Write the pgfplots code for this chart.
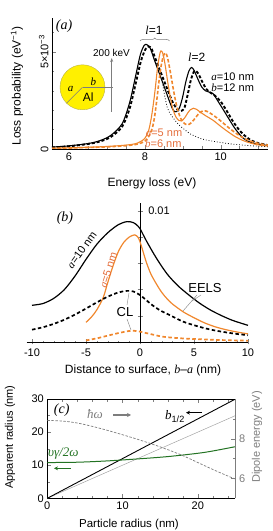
\documentclass[border=0pt]{standalone}
\usepackage{pgfplots}
\pgfplotsset{compat=1.18}
\usepackage{fontspec}
\setmainfont{Liberation Sans}
\newfontfamily\serif{Liberation Serif}
\usetikzlibrary{decorations.pathreplacing,arrows.meta}
\definecolor{orng}{RGB}{240,135,45}
\definecolor{orngtxt}{RGB}{228,110,60}
\definecolor{grn}{RGB}{35,115,35}
\definecolor{gry}{RGB}{125,125,125}
\definecolor{yel}{RGB}{255,240,0}
\newcommand{\mi}[1]{{\serif\itshape #1}}
\newcommand{\fs}[1]{\fontsize{#1}{#1}\selectfont}
\pgfplotsset{every axis/.append style={font=\fs{11}, /pgf/number format/assume math mode=true}}
\begin{document}
\begin{tikzpicture}[x=1pt,y=1pt]
\path[use as bounding box] (0,0) rectangle (273,531);
% ---------------- panel (a)
\begin{axis}[at={(52pt,382pt)},anchor=south west,scale only axis,width=216pt,height=131pt,
  xmin=5.55,xmax=11.25,ymin=0,ymax=6.75,
  axis x line*=bottom, axis y line*=left, axis line style={-},
  xtick={6,8,10}, minor xtick={5.5,6.5,7,7.5,8.5,9,9.5,10.5,11},
  ytick={0,5}, minor ytick={1,2,3,4,6},
  yticklabels={0,5×10\textsuperscript{−3}},
  yticklabel style={rotate=90,anchor=south},
  tick align=inside, major tick length=4pt, minor tick length=2.5pt]
\addplot[black, line width=1.1pt, smooth] coordinates {
(5.55,0.10)(6.0,0.16)(6.5,0.28)(6.8,0.42)(7.1,0.70)(7.4,1.30)(7.6,2.40)(7.75,3.70)(7.88,4.85)(7.98,5.33)(8.05,5.38)(8.14,5.2)(8.25,4.6)(8.4,3.8)(8.55,3.0)(8.68,2.3)(8.76,1.97)(8.84,1.93)(8.92,2.15)(9.0,2.7)(9.08,3.45)(9.16,4.0)(9.23,4.2)(9.3,4.05)(9.4,3.6)(9.5,3.2)(9.6,3.0)(9.7,2.93)(9.8,2.85)(9.95,2.4)(10.1,1.93)(10.25,1.45)(10.4,1.0)(10.6,0.55)(10.8,0.33)(11.0,0.25)(11.25,0.18)};
\addplot[black, line width=1.9pt, dash pattern=on 3pt off 2pt, smooth] coordinates {
(5.55,0.08)(6.0,0.14)(6.5,0.26)(6.8,0.38)(7.1,0.62)(7.4,1.15)(7.6,2.1)(7.75,3.3)(7.9,4.55)(8.02,5.15)(8.1,5.28)(8.18,5.15)(8.3,4.55)(8.45,3.8)(8.6,3.05)(8.75,2.35)(8.88,2.0)(8.97,1.97)(9.05,2.15)(9.13,2.8)(9.22,3.6)(9.3,4.0)(9.35,4.02)(9.42,3.85)(9.52,3.45)(9.62,3.1)(9.72,2.92)(9.85,2.75)(10.0,2.45)(10.15,2.0)(10.3,1.5)(10.45,1.08)(10.6,0.75)(10.8,0.45)(11.0,0.3)(11.25,0.2)};
\addplot[black, line width=0.8pt, dotted, smooth] coordinates {
(8.45,3.6)(8.6,2.1)(8.85,1.35)(9.05,1.0)(9.2,0.78)(9.5,0.52)(9.8,0.4)(10.2,0.28)(10.7,0.18)(11.25,0.12)};
\addplot[orng, line width=1.1pt, smooth] coordinates {
(5.55,0.04)(6.0,0.06)(6.5,0.09)(7.0,0.13)(7.5,0.2)(7.8,0.3)(8.0,0.55)(8.1,0.95)(8.17,1.6)(8.23,2.4)(8.28,3.2)(8.33,4.1)(8.38,4.75)(8.42,5.05)(8.47,4.95)(8.53,4.4)(8.6,3.5)(8.67,2.7)(8.74,2.05)(8.82,1.65)(8.9,1.47)(8.97,1.45)(9.05,1.6)(9.13,1.85)(9.2,2.02)(9.28,2.1)(9.36,2.05)(9.45,1.92)(9.6,1.72)(9.8,1.48)(10.0,1.17)(10.2,0.88)(10.4,0.62)(10.6,0.43)(10.8,0.3)(11.0,0.21)(11.25,0.15)};
\addplot[orng, line width=1.6pt, dash pattern=on 3.5pt off 2pt, smooth] coordinates {
(5.55,0.03)(6.0,0.05)(6.5,0.08)(7.0,0.11)(7.5,0.17)(7.8,0.25)(8.0,0.4)(8.12,0.7)(8.2,1.1)(8.26,1.7)(8.32,2.6)(8.38,3.6)(8.44,4.4)(8.5,4.85)(8.55,4.95)(8.6,4.7)(8.67,4.0)(8.75,3.1)(8.83,2.3)(8.92,1.7)(9.0,1.4)(9.08,1.27)(9.15,1.25)(9.25,1.4)(9.35,1.65)(9.45,1.87)(9.55,1.97)(9.65,1.93)(9.8,1.75)(10.0,1.45)(10.2,1.12)(10.4,0.82)(10.6,0.57)(10.8,0.4)(11.0,0.28)(11.25,0.2)};
\end{axis}
% inset
\fill[yel] (82.5,443.7) circle (22.5);
\draw[yel!60!black!70, line width=0.4pt] (82.5,443.7) circle (22.5);
\draw[gry, line width=0.6pt] (82.5,443.7) -- (113,443.7);
\draw[gry, line width=0.6pt] (82.5,443.7) -- (66.6,427.8);
\draw[gry, line width=0.7pt, -{Stealth[length=4pt,width=3pt]}] (111.7,419) -- (111.7,473);
\node[font=\fs{10}] at (111.5,478) {200 keV};
\node[font=\fs{11}] at (70.7,441.7) {\mi{a}};
\node[font=\fs{11}] at (93.3,449.3) {\mi{b}};
\node[font=\fs{12}] at (88.3,433.7) {Al};
\node[font=\fs{14}] at (64,505) {\mi{(a)}};
\node[font=\fs{12}] at (154,500.3) {\mi{l}=1};
\draw[gry, line width=0.5pt, decorate, decoration={brace, amplitude=3pt}] (140,490) -- (169.5,490);
\node[font=\fs{12}] at (196.7,473.7) {\mi{l}=2};
\node[font=\fs{11}] at (232.7,454.3) {\mi{a}=10 nm};
\node[font=\fs{11}] at (232.7,443.7) {\mi{b}=12 nm};
\node[font=\fs{11}, text=orngtxt] at (164,398.3) {\mi{a}=5 nm};
\node[font=\fs{11}, text=orngtxt] at (163.3,387.7) {\mi{b}=6 nm};
\node[font=\fs{12}, rotate=90] at (17,445) {Loss probability (eV\textsuperscript{−1})};
\node[font=\fs{12}] at (152,348) {Energy loss (eV)};
% ---------------- panel (b)
\begin{axis}[at={(26.6pt,189pt)},anchor=south west,scale only axis,width=221.4pt,height=139pt,
  xmin=-10.5,xmax=10,ymin=0,ymax=10.6,
  axis lines=middle, axis line style={-},
  xtick={-10,-5,0,5,10}, minor xtick={-9,-8,...,9},
  ytick={2,4,6,8,10}, yticklabels={,,,,},
  hide obscured x ticks=false, hide obscured y ticks=false,
  tick align=center, major tick length=5pt, minor tick length=2.5pt,
  xticklabel style={yshift=-1pt}]
\addplot[black, line width=1.2pt, smooth] coordinates {
(-10,2.80)(-9,2.93)(-8,3.32)(-7,4.0)(-6,5.05)(-5,6.3)(-4,7.45)(-3,8.32)(-2,8.95)(-1.2,9.18)(-0.6,9.1)(-0.2,8.85)(0,8.65)(0.6,7.7)(1.5,6.42)(2.5,5.2)(3.5,4.3)(4.5,3.6)(5.5,2.97)(6.5,2.45)(7.5,2.03)(8.5,1.67)(9.3,1.45)(10,1.27)};
\addplot[orng, line width=1.2pt, smooth] coordinates {
(-5,1.5)(-4.5,1.9)(-4,2.45)(-3.4,3.4)(-3,4.5)(-2.5,5.8)(-2,6.9)(-1.5,7.6)(-1,8.0)(-0.5,8.17)(-0.2,8.0)(0,7.65)(0.3,6.85)(0.6,6.05)(1,5.2)(1.5,4.45)(2,3.8)(2.5,3.3)(3,2.9)(4,2.3)(5,1.85)(6,1.45)(7,1.15)(8,0.93)(9,0.76)(10,0.62)};
\addplot[black, line width=1.7pt, dash pattern=on 3.5pt off 2.5pt, smooth] coordinates {
(-10,0.94)(-9,1.12)(-8,1.38)(-7,1.7)(-6,2.1)(-5,2.55)(-4,3.02)(-3,3.45)(-2,3.78)(-1.2,3.9)(-0.6,3.85)(0,3.58)(0.5,3.25)(1,2.9)(1.5,2.6)(2,2.35)(2.5,2.15)(3,1.95)(4,1.55)(5,1.28)(6,1.05)(7,0.87)(8,0.73)(9,0.61)(10,0.52)};
\addplot[orng, line width=1.7pt, dash pattern=on 3.5pt off 2.5pt, smooth] coordinates {
(-5,0.12)(-4,0.28)(-3,0.48)(-2,0.68)(-1,0.84)(-0.5,0.85)(0,0.79)(1,0.6)(2,0.42)(3,0.33)(4,0.27)(5,0.23)(7,0.16)(10,0.1)};
\end{axis}
\node[font=\fs{11}] at (159,320) {0.01};
\node[font=\fs{14}] at (65,313) {\mi{(b)}};
\node[font=\fs{11}, rotate=54] at (81.7,281) {\mi{a}=10 nm};
\node[font=\fs{11}, rotate=72, text=orngtxt] at (108.3,261) {\mi{a}=5 nm};
\node[font=\fs{13}] at (205,243) {EELS};
\node[font=\fs{13}] at (125,219) {CL};
\draw[gry, line width=0.4pt] (197,236) -- (183,220);
\draw[gry, line width=0.4pt] (201,236) -- (192,230);
\draw[gry, line width=0.4pt] (127,226) -- (129,238);
\draw[gry, line width=0.4pt] (127,212) -- (131,201);
\node[font=\fs{12}] at (143,161) {Distance to surface, \mi{b}–\mi{a} (nm)};
% ---------------- panel (c)
\begin{axis}[at={(47.3pt,32.7pt)},anchor=south west,scale only axis,width=188.2pt,height=99.3pt,
  xmin=0,xmax=25,ymin=0,ymax=30,
  axis x line*=box, axis y line*=left, axis line style={-},
  xtick={0,10,20}, minor xtick={2,4,...,24},
  ytick={0,10,20,30}, minor ytick={5,15,25},
  tick align=inside, major tick length=4pt, minor tick length=2.5pt]
\addplot[gry!70, line width=0.5pt] coordinates {(0,0)(25,25)};
\addplot[black, line width=0.9pt] coordinates {(0,0)(25,30)};
\addplot[grn, line width=1.0pt, smooth] coordinates {(0,10.8)(4,10.9)(8,11.3)(12,11.9)(16,12.6)(20,13.6)(22,14.3)(25,15.6)};
\end{axis}
\begin{axis}[at={(47.3pt,32.7pt)},anchor=south west,scale only axis,width=188.2pt,height=99.3pt,
  xmin=0,xmax=25,ymin=5,ymax=10,
  axis x line=none, axis y line*=right, axis line style={-,gry},
  ytick={6,8}, minor ytick={7,9}, ytick style={gry},
  yticklabel style={text=gry},
  tick align=inside, major tick length=4pt, minor tick length=2.5pt]
\addplot[gry, line width=0.7pt, dash pattern=on 2.5pt off 1.5pt, smooth] coordinates {
(0,8.92)(2,8.89)(4,8.79)(6,8.62)(8,8.42)(10,8.2)(12,7.97)(14,7.72)(16,7.45)(18,7.15)(20,6.8)(22,6.45)(24,6.12)(25,5.97)};
\end{axis}
\node[font=\fs{14}] at (61.7,121) {\mi{(c)}};
\node[font=\fs{13}, text=gry] at (95,117) {\mi{ħω}};
\draw[gry, line width=1.2pt, -{Stealth[length=4pt,width=4pt]}] (113,116) -- (131,116);
\node[font=\fs{13}] at (175,114.3) {\mi{b}\textsubscript{1/2}};
\draw[black, line width=1.2pt, -{Stealth[length=4pt,width=4pt]}] (202,118.3) -- (186,118.3);
\node[font=\fs{13}, text=grn] at (63.3,77.7) {\mi{υγ/2ω}};
\draw[grn, line width=1.2pt, -{Stealth[length=4pt,width=4pt]}] (71,62.7) -- (54,62.7);
\node[font=\fs{11}, rotate=90] at (10,94) {Apparent radius (nm)};
\node[font=\fs{11}, rotate=90, text=gry] at (257,94) {Dipole energy (eV)};
\node[font=\fs{11.5}] at (129,6) {Particle radius (nm)};
\end{tikzpicture}
\end{document}
